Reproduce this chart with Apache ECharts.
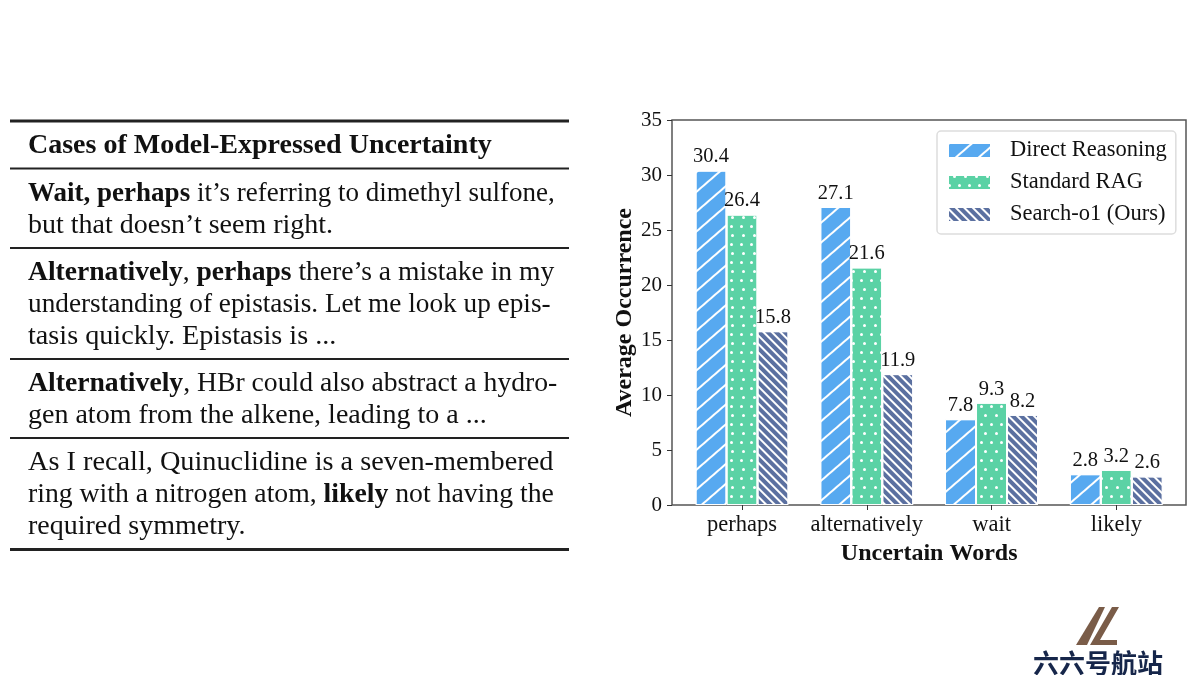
<!DOCTYPE html>
<html><head><meta charset="utf-8">
<style>html,body{margin:0;padding:0;background:#fff}#c{width:1200px;height:675px}</style>
<script src="https://cdn.jsdelivr.net/npm/echarts@6/dist/echarts.min.js"></script>
</head><body><div id="c"></div>
<script>
const categories = ['perhaps','alternatively','wait','likely'];
const directReasoning = [30.4,27.1,7.8,2.8];
const standardRAG = [26.4,21.6,9.3,3.2];
const searchO1 = [15.8,11.9,8.2,2.6];
const yTicks = {min:0,max:35,interval:5};
const tableRows = [
 {y:146,sx:1,parts:[['b','Cases of Model-Expressed Uncertainty']]},
 {y:194,sx:.965,parts:[['b','Wait, perhaps'],['n',' it’s referring to dimethyl sulfone,']]},
 {y:226,sx:1,parts:[['n','but that doesn’t seem right.']]},
 {y:273,sx:.985,parts:[['b','Alternatively'],['n',', '],['b','perhaps'],['n',' there’s a mistake in my']]},
 {y:305,sx:.974,parts:[['n','understanding of epistasis. Let me look up epis-']]},
 {y:337,sx:1.007,parts:[['n','tasis quickly. Epistasis is ...']]},
 {y:384,sx:.988,parts:[['b','Alternatively'],['n',', HBr could also abstract a hydro-']]},
 {y:416,sx:1,parts:[['n','gen atom from the alkene, leading to a ...']]},
 {y:463,sx:1.01,parts:[['n','As I recall, Quinuclidine is a seven-membered']]},
 {y:495,sx:.99,parts:[['n','ring with a nitrogen atom, '],['b','likely'],['n',' not having the']]},
 {y:527,sx:1,parts:[['n','required symmetry.']]}
];
const rules = [[121,3],[168.5,2],[248,2],[359,2],[438,2],[549.5,3]];
const serif = '"Liberation Serif"';
const tfs = 28;
const graphics = [];
rules.forEach(([y,w])=>graphics.push({type:'line',silent:true,shape:{x1:10,y1:y,x2:569,y2:y},style:{stroke:'#222',lineWidth:w}}));
tableRows.forEach(r=>{
 const text = r.parts.map(p=>`{${p[0]}|${p[1]}}`).join('');
 graphics.push({type:'text',silent:true,x:28,y:r.y,scaleX:r.sx,style:{text,verticalAlign:'middle',align:'left',
  rich:{b:{fontFamily:serif,fontWeight:'bold',fontSize:tfs,fill:'#111'},n:{fontFamily:serif,fontSize:tfs,fill:'#111'}}}});
});
graphics.push({type:'polygon',silent:true,shape:{points:[[1099,607],[1105,607],[1087,645],[1076,645]]},style:{fill:'#7a5c48'}});
graphics.push({type:'polygon',silent:true,shape:{points:[[1112,607],[1119,607],[1100,640],[1117,640],[1117,645],[1090,645]]},style:{fill:'#7a5c48'}});
graphics.push({type:'text',silent:true,x:1098,y:663,style:{text:'六六号航站',align:'center',verticalAlign:'middle',fontFamily:'"Noto Sans CJK SC"',fontWeight:'bold',fontSize:26,fill:'#16264a'}});

const hatch = {symbol:'rect',symbolSize:1,dashArrayX:[1,0],dashArrayY:[1.5,12.5],rotation:-Math.PI/4.4,color:'#fff'};
const dots = {symbol:'circle',symbolSize:1,dashArrayX:[[2.6,7],[0,4.8,2.6,2.2]],dashArrayY:[2.6,5.7],rotation:0,color:'#fff'};
const back = {symbol:'rect',symbolSize:1,dashArrayX:[1,0],dashArrayY:[1.3,3.7],rotation:Math.PI/4,color:'#fff'};
const lbl = {show:true,position:'top',distance:3,fontFamily:serif,fontSize:20.5,color:'#111'};
function bar(name,data,color,decal){return {name,type:'bar',xAxisIndex:1,yAxisIndex:1,data,barWidth:31,barGap:'0%',
 itemStyle:{color,decal,borderColor:'#fff',borderWidth:1},label:lbl};}
const chart = echarts.init(document.getElementById('c'),null,{renderer:'canvas'});
chart.setOption({
 animation:false,backgroundColor:'#fff',
 aria:{enabled:false},
 grid:[{show:true,left:672,top:120,width:514,height:385,borderColor:'#555',borderWidth:1.5,backgroundColor:'transparent'},
       {left:679.65,top:120,width:499,height:385}],
 xAxis:[{gridIndex:0,show:false,type:'value',min:0,max:1},
  {gridIndex:1,type:'category',data:categories,axisLine:{show:false},axisTick:{show:true,alignWithLabel:true,length:5,lineStyle:{color:'#333'}},
   axisLabel:{fontFamily:serif,fontSize:22.5,color:'#111',margin:9,interval:0},
   name:'Uncertain Words',nameLocation:'middle',nameGap:35,nameTextStyle:{fontFamily:serif,fontWeight:'bold',fontSize:24,color:'#111'}}],
 yAxis:[{gridIndex:0,show:false,type:'value',min:0,max:1},
  {gridIndex:1,type:'value',...yTicks,offset:7.65,splitLine:{show:false},axisLine:{show:false},
   axisTick:{show:true,length:5,lineStyle:{color:'#333'}},axisLabel:{fontFamily:serif,fontSize:21,color:'#111',margin:10,padding:[6,0,0,0]},
   name:'Average Occurrence',nameLocation:'middle',nameGap:35,nameRotate:90,nameTextStyle:{fontFamily:serif,fontWeight:'bold',fontSize:24,color:'#111'}}],
 legend:{orient:'vertical',left:937,top:131,padding:[8,9,8,10],itemWidth:43,itemHeight:15,itemGap:9,icon:'rect',
  backgroundColor:'#fff',borderColor:'#ddd',borderWidth:1.5,borderRadius:4,
  textStyle:{fontFamily:serif,fontSize:22.5,color:'#111',padding:[0,0,0,14]},
  data:['Direct Reasoning','Standard RAG','Search-o1 (Ours)']},
 series:[bar('Direct Reasoning',directReasoning,'#57a9f0',hatch),bar('Standard RAG',standardRAG,'#5bd2a5',dots),bar('Search-o1 (Ours)',searchO1,'#5b70a0',back)],
 graphic:graphics
});
</script></body></html>
